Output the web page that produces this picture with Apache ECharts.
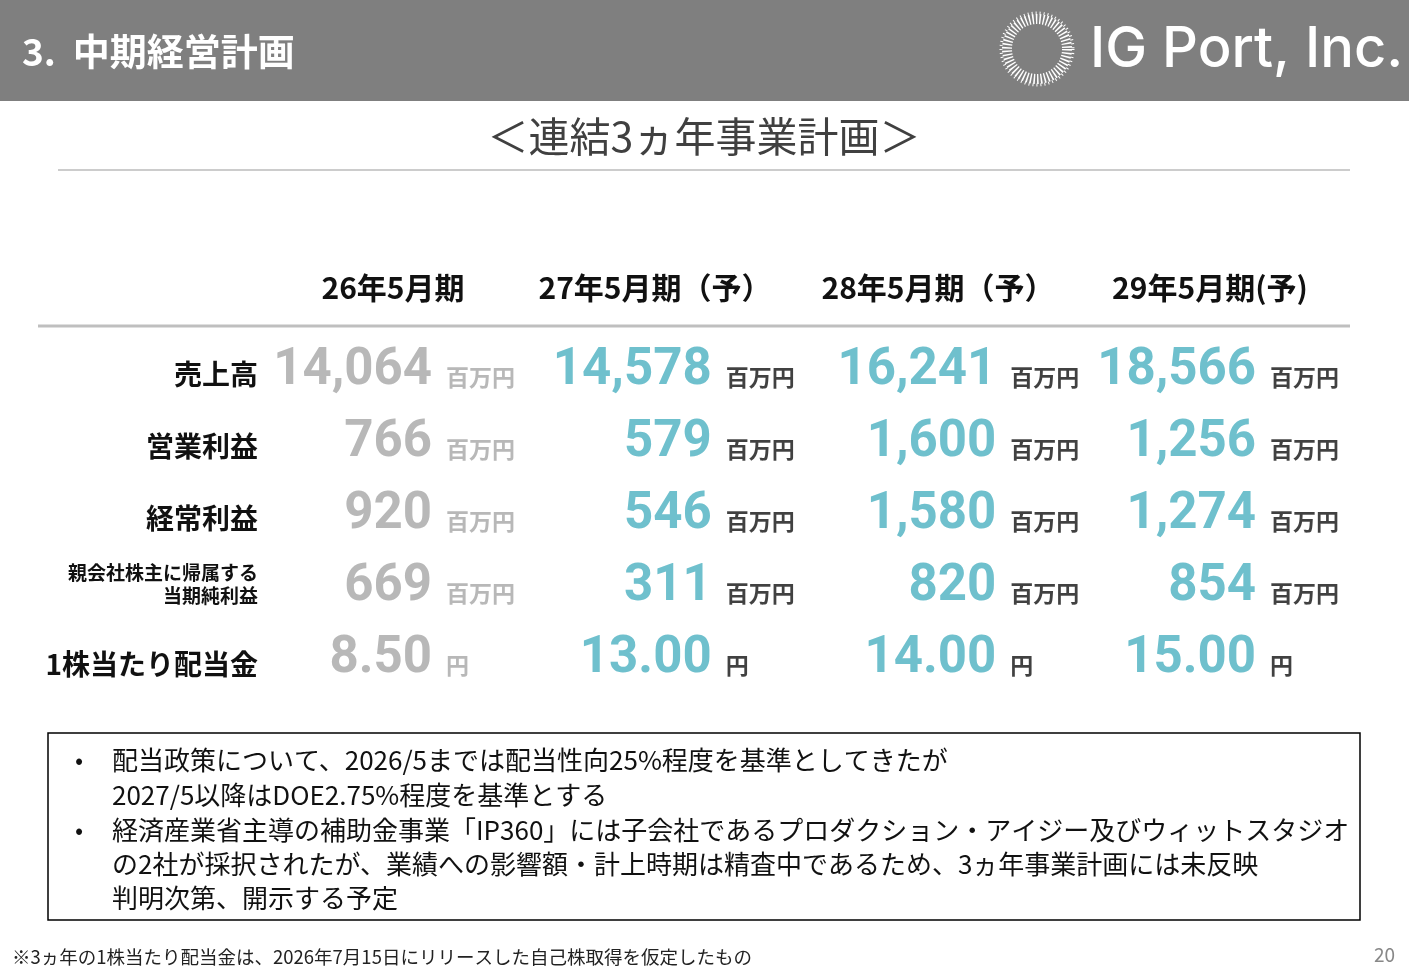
<!DOCTYPE html>
<html><head><meta charset="utf-8">
<script src="https://cdn.jsdelivr.net/npm/echarts@6/dist/echarts.min.js"></script>
<style>html,body{margin:0;padding:0;background:#fff}#c{width:1409px;height:975px}</style>
</head><body><div id="c"></div>
<script>
const periods = ['26年5月期', '27年5月期（予）', '28年5月期（予）', '29年5月期(予)'];
const rowLabels = ['売上高', '営業利益', '経常利益', '親会社株主に帰属する\n当期純利益', '1株当たり配当金'];
const units = ['百万円', '百万円', '百万円', '百万円', '円'];
const sales = ['14,064', '14,578', '16,241', '18,566'];
const opProfit = ['766', '579', '1,600', '1,256'];
const ordProfit = ['920', '546', '1,580', '1,274'];
const netProfit = ['669', '311', '820', '854'];
const dividend = ['8.50', '13.00', '14.00', '15.00'];
const notes = [
  '配当政策について、2026/5までは配当性向25%程度を基準としてきたが',
  '2027/5以降はDOE2.75%程度を基準とする',
  '経済産業省主導の補助金事業「IP360」には子会社であるプロダクション・アイジー及びウィットスタジオ',
  'の2社が採択されたが、業績への影響額・計上時期は精査中であるため、3ヵ年事業計画には未反映',
  '判明次第、開示する予定'
];
const footnote = '※3ヵ年の1株当たり配当金は、2026年7月15日にリリースした自己株取得を仮定したもの';

const rows = [sales, opProfit, ordProfit, netProfit, dividend];
const colShift = [0, 5, 15, 0];
const F = '"Noto Sans CJK JP", Roboto, sans-serif';
const numData = [], unitData = [];
rows.forEach((r, ri) => r.forEach((v, ci) => {
  const gray = ci === 0;
  numData.push({value: [ci, ri], label: {formatter: v, color: gray ? '#a6a6a6' : '#4bb0c0', offset: [colShift[ci], 0]}});
  unitData.push({value: [ci, ri], label: {formatter: units[ri], color: gray ? '#a6a6a6' : '#111', offset: [colShift[ci] + 14, 6]}});
}));

const g = [
  {type: 'rect', shape: {x: 0, y: 0, width: 1409, height: 101}, style: {fill: '#7f7f7f'}},
  {type: 'text', x: 22, y: 52, style: {text: '3.  中期経営計画', fill: '#fff', font: 'bold 37px ' + F, textVerticalAlign: 'middle'}},
  {type: 'circle', shape: {cx: 1037, cy: 49, r: 30}, style: {fill: 'none', stroke: '#fff', lineWidth: 10, lineDash: [1.5, 2]}},
  {type: 'circle', shape: {cx: 1037, cy: 49, r: 36}, style: {fill: 'none', stroke: '#fff', lineWidth: 3, lineDash: [1, 3]}},
  {type: 'text', x: 1090, y: 50, style: {text: 'IG Port, Inc.', fill: '#fff', font: '500 56px Inter, sans-serif', textVerticalAlign: 'middle'}},
  {type: 'text', x: 704, y: 136, style: {text: '＜連結3ヵ年事業計画＞', fill: '#404040', font: '41px ' + F, textAlign: 'center', textVerticalAlign: 'middle'}},
  {type: 'line', shape: {x1: 58, y1: 170, x2: 1350, y2: 170}, style: {stroke: '#999', lineWidth: 1}},
  {type: 'line', shape: {x1: 38, y1: 326, x2: 1350, y2: 326}, style: {stroke: '#bfbfbf', lineWidth: 3}},
  {type: 'rect', shape: {x: 48, y: 733, width: 1312, height: 187}, style: {fill: 'none', stroke: '#000', lineWidth: 1.5}},
  {type: 'text', x: 12, y: 957, style: {text: footnote, fill: '#222', font: '18.5px ' + F, textVerticalAlign: 'middle'}},
  {type: 'text', x: 1395, y: 955, style: {text: '20', fill: '#888', font: '19px ' + F, textAlign: 'right', textVerticalAlign: 'middle'}}
];
const headX = [393, 655, 938, 1210];
periods.forEach((p, i) => g.push({type: 'text', x: headX[i], y: 288, style: {text: p, fill: '#111', font: 'bold 30px ' + F, textAlign: 'center', textVerticalAlign: 'middle'}}));
const rowY = [374, 446, 518, 584, 664];
rowLabels.forEach((l, i) => g.push({type: 'text', x: 258, y: rowY[i], style: {text: l, fill: '#111', font: (i === 3 ? 'bold 19px ' : 'bold 28px ') + F, textAlign: 'right', textVerticalAlign: 'middle', lineHeight: 23}}));
const noteY = [760, 795, 830, 864, 898];
notes.forEach((n, i) => g.push({type: 'text', x: 112, y: noteY[i], style: {text: n, fill: '#111', font: '26px ' + F, textVerticalAlign: 'middle'}}));
[760, 830].forEach(y => g.push({type: 'text', x: 75, y: y, style: {text: '•', fill: '#111', font: '24px ' + F, textVerticalAlign: 'middle'}}));

const chart = echarts.init(document.getElementById('c'));
chart.setOption({
  animation: false,
  grid: {left: 432, right: 1409 - 1256, top: 371, bottom: 975 - 659},
  xAxis: {type: 'value', min: 0, max: 3, show: false},
  yAxis: {type: 'value', min: 0, max: 4, inverse: true, show: false},
  series: [
    {type: 'scatter', symbolSize: 0, data: numData,
     label: {show: true, position: 'left', distance: 0, fontFamily: 'Roboto', fontWeight: 'bold', fontSize: 51}},
    {type: 'scatter', symbolSize: 0, data: unitData,
     label: {show: true, position: 'right', distance: 0, fontFamily: F, fontWeight: 'bold', fontSize: 23}}
  ],
  graphic: g
});
</script></body></html>
